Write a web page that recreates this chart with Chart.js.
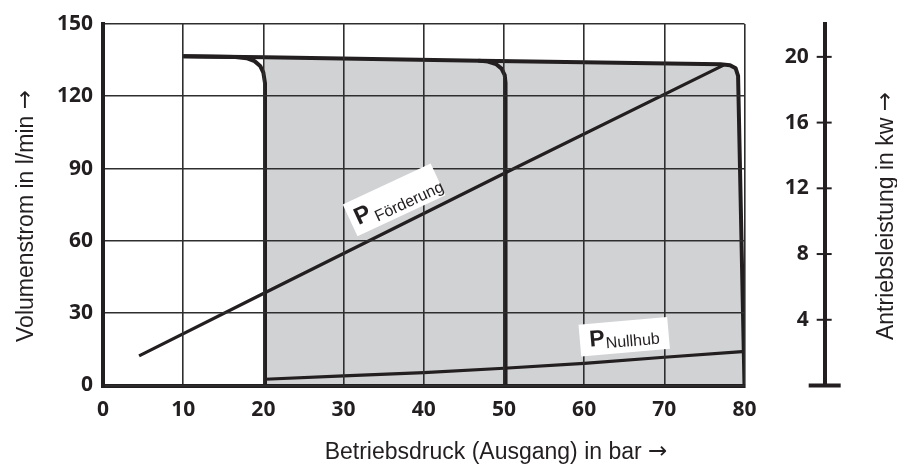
<!DOCTYPE html>
<html>
<head>
<meta charset="utf-8">
<script src="https://cdn.jsdelivr.net/npm/chart.js@4.4.0/dist/chart.umd.min.js"></script>
<style>
  html, body { margin: 0; padding: 0; background: #fff; }
  #wrap { width: 897px; height: 466px; }
</style>
</head>
<body>
<div id="wrap"><canvas id="myChart" width="897" height="466"></canvas></div>
<script>
// Achsen-Teilungen
const druckTicks = [0, 10, 20, 30, 40, 50, 60, 70, 80];      // bar
const stromTicks = [0, 30, 60, 90, 120, 150];                 // l/min
const leistungTicks = [4, 8, 12, 16, 20];                     // kW
const leistungMax = 22;
const achseRechtsBei = 90; // rechte Achse sitzt bei 90 bar (ausserhalb des Feldes)

// Kennlinien (Druck in bar / Volumenstrom in l/min)
const kennlinie20Druck = [10, 16.5, 17.9, 18.9, 19.6, 20.0, 20.2, 20.2];
const kennlinie20Strom = [136.6, 136.3, 135.8, 134.6, 132.6, 129.8, 125.5, 0];
const kennlinie50Druck = [46.8, 48.0, 49.0, 49.7, 50.1, 50.2, 50.2];
const kennlinie50Strom = [134.8, 134.4, 133.4, 131.5, 128.8, 125.5, 0];
const kennlinie80Druck = [10, 20.2, 47, 77, 78.2, 78.9, 79.2, 80];
const kennlinie80Strom = [136.6, 136.2, 134.8, 133.3, 132.9, 131.6, 128.5, 0];

// Leistungslinien (Druck in bar / Leistung in kW)
const pFoerderungDruck = [4.5, 20, 50, 77.4];
const pFoerderungKw = [1.8, 5.6, 12.9, 19.5];
const pNullhubDruck = [20.2, 30, 40, 50, 60, 70, 79.7];
const pNullhubKw = [0.38, 0.58, 0.78, 1.05, 1.35, 1.72, 2.06];

const dunkel = '#231f20';
const grau = '#d1d2d4';

function punkte(xs, ys) {
    return xs.map((v, i) => ({x: v, y: ys[i]}));
}

// Beschriftungsfelder an den Leistungslinien
const labelFelder = [
    {druck: 36.3, kw: 11.3, winkel: -25, breite: 97, hoehe: 35, p: [-43, 8, 24], sub: ['Förderung', -24, 13, 16]},
    {druck: 65.0, kw: 2.97, winkel: -5, breite: 89, hoehe: 32, p: [-35, 7, 23], sub: ['Nullhub', -19, 10, 16]}
];

// Text mit langem Pfeil am Ende, mittig um (0,0)
function titelMitPfeil(ctx, text) {
    ctx.font = '23px "Liberation Sans"';
    const w1 = ctx.measureText(text + ' ').width;
    ctx.font = '23px "DejaVu Sans"';
    const w2 = ctx.measureText('\u2192').width;
    const start = -(w1 + w2) / 2;
    ctx.textAlign = 'left';
    ctx.font = '23px "Liberation Sans"';
    ctx.fillText(text, start, 0);
    ctx.font = '23px "DejaVu Sans"';
    ctx.fillText('\u2192', start + w1, -1);
}

const beschriftung = {
    id: 'beschriftung',
    afterDraw(chart) {
        const ctx = chart.ctx;
        const x = chart.scales.x, y2 = chart.scales.y2;
        ctx.save();
        ctx.strokeStyle = dunkel;
        ctx.fillStyle = dunkel;

        // Fuss, Striche und Zahlen der rechten Achse
        const ax = x.getPixelForValue(achseRechtsBei);
        const y0 = y2.getPixelForValue(0);
        ctx.lineWidth = 4;
        ctx.beginPath();
        ctx.moveTo(ax - 16, y0);
        ctx.lineTo(ax + 16, y0);
        ctx.stroke();
        ctx.lineWidth = 2;
        ctx.font = 'bold 21px "Open Sans"';
        ctx.textAlign = 'right';
        ctx.textBaseline = 'middle';
        leistungTicks.forEach(v => {
            const py = y2.getPixelForValue(v);
            ctx.beginPath();
            ctx.moveTo(ax - 8, py);
            ctx.lineTo(ax + 7, py);
            ctx.stroke();
            ctx.fillText(String(v), ax - 16, py);
        });

        // Achsentitel
        ctx.textBaseline = 'alphabetic';
        ctx.save();
        ctx.translate(496, 459);
        titelMitPfeil(ctx, 'Betriebsdruck (Ausgang) in bar');
        ctx.restore();
        ctx.save();
        ctx.translate(33, 216);
        ctx.rotate(-Math.PI / 2);
        titelMitPfeil(ctx, 'Volumenstrom in l/min');
        ctx.restore();
        ctx.save();
        ctx.translate(893, 216);
        ctx.rotate(-Math.PI / 2);
        titelMitPfeil(ctx, 'Antriebsleistung in kw');
        ctx.restore();

        // P-Felder
        labelFelder.forEach(f => {
            ctx.save();
            ctx.translate(x.getPixelForValue(f.druck), y2.getPixelForValue(f.kw));
            ctx.rotate(f.winkel * Math.PI / 180);
            ctx.fillStyle = '#fff';
            ctx.fillRect(-f.breite / 2, -f.hoehe / 2, f.breite, f.hoehe);
            ctx.fillStyle = dunkel;
            ctx.textAlign = 'left';
            ctx.font = 'bold ' + f.p[2] + 'px "Liberation Sans"';
            ctx.fillText('P', f.p[0], f.p[1]);
            ctx.font = f.sub[3] + 'px "Liberation Sans"';
            ctx.fillText(f.sub[0], f.sub[1], f.sub[2]);
            ctx.restore();
        });
        ctx.restore();
    }
};

const tickFont = {family: 'Open Sans', size: 21, weight: 'bold'};

let ctx = document.getElementById('myChart').getContext('2d');
let myChart = new Chart(ctx, {
    type: 'line',
    data: {
        datasets: [{
            label: '20 bar',
            data: punkte(kennlinie20Druck, kennlinie20Strom),
            borderColor: dunkel,
            borderWidth: 4,
            yAxisID: 'y'
        }, {
            label: '50 bar',
            data: punkte(kennlinie50Druck, kennlinie50Strom),
            borderColor: dunkel,
            borderWidth: 4,
            yAxisID: 'y'
        }, {
            label: '80 bar',
            data: punkte(kennlinie80Druck, kennlinie80Strom),
            borderColor: dunkel,
            borderWidth: 4,
            yAxisID: 'y'
        }, {
            label: 'P Förderung',
            data: punkte(pFoerderungDruck, pFoerderungKw),
            borderColor: dunkel,
            borderWidth: 3.2,
            yAxisID: 'y2'
        }, {
            label: 'P Nullhub',
            data: punkte(pNullhubDruck, pNullhubKw),
            borderColor: dunkel,
            borderWidth: 3.2,
            yAxisID: 'y2'
        }, {
            // grau hinterlegtes Kennfeld, zuletzt in der Liste = zuunterst gezeichnet
            label: 'Kennfeld',
            data: punkte(kennlinie80Druck.slice(1), kennlinie80Strom.slice(1)),
            borderWidth: 0,
            backgroundColor: grau,
            fill: 'origin',
            yAxisID: 'y'
        }]
    },
    options: {
        responsive: false,
        animation: false,
        events: [],
        color: dunkel,
        layout: {padding: {top: 24, right: 152.5, left: 0, bottom: 0}},
        elements: {
            point: {radius: 0},
            line: {tension: 0, borderJoinStyle: 'round', borderCapStyle: 'butt', fill: false}
        },
        plugins: {legend: {display: false}, tooltip: {enabled: false}},
        scales: {
            x: {
                type: 'linear',
                position: 'bottom',
                min: druckTicks[0],
                max: druckTicks[druckTicks.length - 1],
                afterBuildTicks: s => { s.ticks = druckTicks.map(v => ({value: v})); },
                afterFit: s => { s.height = 80.5; },
                grid: {color: '#2e2e2e', lineWidth: 1.6, drawTicks: false, z: 1},
                border: {color: dunkel, width: 4, z: 1},
                ticks: {font: tickFont, color: dunkel, padding: 12, maxRotation: 0}
            },
            y: {
                type: 'linear',
                position: 'left',
                min: stromTicks[0],
                max: stromTicks[stromTicks.length - 1],
                afterBuildTicks: s => { s.ticks = stromTicks.map(v => ({value: v})); },
                afterFit: s => { s.width = 103; },
                grid: {color: '#2e2e2e', lineWidth: 1.6, drawTicks: false, z: 1},
                border: {color: dunkel, width: 4, z: 1},
                ticks: {font: tickFont, color: dunkel, padding: 10}
            },
            y2: {
                type: 'linear',
                position: {x: achseRechtsBei},
                min: 0,
                max: leistungMax,
                afterBuildTicks: s => { s.ticks = leistungTicks.map(v => ({value: v})); },
                afterFit: s => { s.width = 0; },
                grid: {drawOnChartArea: false, drawTicks: false},
                border: {color: dunkel, width: 4},
                ticks: {display: false}
            }
        }
    },
    plugins: [beschriftung]
});
</script>
</body>
</html>
